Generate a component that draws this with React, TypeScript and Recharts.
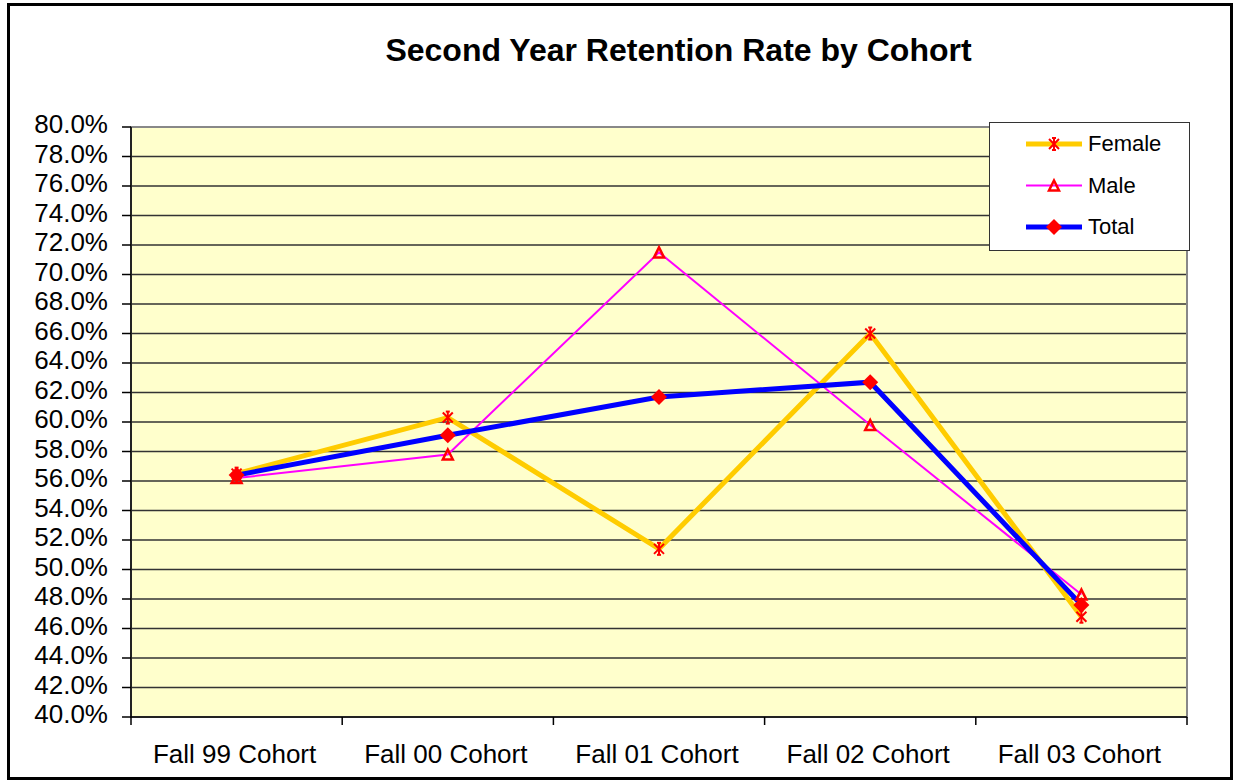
import { LineChart, Line, XAxis, YAxis, CartesianGrid, ReferenceArea, Legend } from "recharts"

const cohorts = ["Fall 99 Cohort", "Fall 00 Cohort", "Fall 01 Cohort", "Fall 02 Cohort", "Fall 03 Cohort"]
const female = [56.5, 60.3, 51.4, 66.0, 46.8]
const male = [56.2, 57.8, 71.5, 59.8, 48.3]
const total = [56.4, 59.1, 61.7, 62.7, 47.6]
const yTicks = [40, 42, 44, 46, 48, 50, 52, 54, 56, 58, 60, 62, 64, 66, 68, 70, 72, 74, 76, 78, 80]

const data = cohorts.map((name, i) => ({ name, female: female[i], male: male[i], total: total[i] }))

const FONT = "'Liberation Sans', Arial, sans-serif"
const PLOT_LEFT = 131
const PLOT_RIGHT = 1187
const PLOT_BOTTOM = 717
const BAND = (PLOT_RIGHT - PLOT_LEFT) / cohorts.length

const SERIES = [
  { key: "female", label: "Female", color: "#FFCC00", width: 5, marker: "star" },
  { key: "male", label: "Male", color: "#FF00FF", width: 2, marker: "triangle" },
  { key: "total", label: "Total", color: "#0000FF", width: 5, marker: "diamond" },
] as const

function Marker({ kind, cx, cy }: { kind: string; cx: number; cy: number }) {
  if (kind === "star") {
    const r = 5
    return (
      <g stroke="#FF0000" strokeWidth={2} fill="none">
        <line x1={cx - r} y1={cy - r} x2={cx + r} y2={cy + r} />
        <line x1={cx - r} y1={cy + r} x2={cx + r} y2={cy - r} />
        <line x1={cx} y1={cy - r - 1} x2={cx} y2={cy + r + 1} />
        <line x1={cx - 2} y1={cy - r - 1} x2={cx + 2} y2={cy - r - 1} />
        <line x1={cx - 2} y1={cy + r + 1} x2={cx + 2} y2={cy + r + 1} />
      </g>
    )
  }
  if (kind === "triangle") {
    return (
      <path
        d={`M${cx},${cy - 5} L${cx + 5},${cy + 5} L${cx - 5},${cy + 5} Z`}
        stroke="#FF0000"
        strokeWidth={2.5}
        fill="none"
      />
    )
  }
  return <path d={`M${cx},${cy - 8} L${cx + 8},${cy} L${cx},${cy + 8} L${cx - 8},${cy} Z`} fill="#FF0000" />
}

function makeDot(kind: string) {
  return (props: any) => {
    const { cx, cy, index } = props
    if (cx == null || cy == null) return <g key={index} />
    return (
      <g key={index}>
        <Marker kind={kind} cx={cx} cy={cy} />
      </g>
    )
  }
}

function XTick(props: any) {
  const { x, payload, index } = props
  const last = index === cohorts.length - 1
  return (
    <g>
      <line x1={x - BAND / 2} y1={PLOT_BOTTOM} x2={x - BAND / 2} y2={PLOT_BOTTOM + 8} stroke="#000" strokeWidth={1.5} />
      {last && (
        <line x1={x + BAND / 2} y1={PLOT_BOTTOM} x2={x + BAND / 2} y2={PLOT_BOTTOM + 8} stroke="#000" strokeWidth={1.5} />
      )}
      <text x={x - 2} y={763} textAnchor="middle" fontSize={26} fontFamily={FONT} fill="#000">
        {payload.value}
      </text>
    </g>
  )
}

function YTick(props: any) {
  const { x, y, payload } = props
  return (
    <text x={x} y={y + 6} textAnchor="end" fontSize={26} fontFamily={FONT} fill="#000">
      {payload.value.toFixed(1) + "%"}
    </text>
  )
}

function LegendBox() {
  return (
    <div
      style={{
        position: "relative",
        width: 201,
        height: 129,
        boxSizing: "border-box",
        border: "1.5px solid #333",
        background: "#fff",
        fontFamily: FONT,
        fontSize: 22,
      }}
    >
      {SERIES.map((s, i) => {
        const cy = 21 + i * 41.5
        return (
          <div key={s.key}>
            <svg style={{ position: "absolute", left: 0, top: 0 }} width={100} height={129}>
              <line x1={36} y1={cy} x2={92} y2={cy} stroke={s.color} strokeWidth={s.width} />
              <Marker kind={s.marker} cx={64} cy={cy} />
            </svg>
            <span style={{ position: "absolute", left: 98, top: cy - 13, lineHeight: "26px", color: "#000" }}>
              {s.label}
            </span>
          </div>
        )
      })}
    </div>
  )
}

export default function App() {
  return (
    <div style={{ position: "absolute", left: 0, top: 0, width: 1235, height: 782, background: "#fff" }}>
      <div
        style={{
          position: "absolute",
          left: 7,
          top: 3,
          width: 1226,
          height: 777,
          boxSizing: "border-box",
          border: "3px solid #000",
        }}
      />
      <div
        style={{
          position: "absolute",
          left: 0,
          width: 1235,
          top: 30,
          textAlign: "center",
          paddingLeft: 122,
          boxSizing: "border-box",
          fontFamily: FONT,
          fontWeight: "bold",
          fontSize: 32,
          lineHeight: "40px",
        }}
      >
        Second Year Retention Rate by Cohort
      </div>
      <div style={{ position: "absolute", left: 0, top: 0 }}>
        <LineChart width={1235} height={782} data={data} margin={{ top: 127, right: 48, left: 0, bottom: 15 }}>
          <CartesianGrid vertical={false} stroke="#333" strokeWidth={1.3} fill="#FFFFCC" fillOpacity={1} />
          <ReferenceArea y1={40} y2={80} fill="none" stroke="#888" strokeWidth={2} ifOverflow="visible" />
          <XAxis
            dataKey="name"
            scale="band"
            height={50}
            tickLine={false}
            axisLine={{ stroke: "#000", strokeWidth: 1.5 }}
            tick={<XTick />}
            interval={0}
          />
          <YAxis
            width={131}
            domain={[40, 80]}
            ticks={yTicks}
            interval={0}
            tickSize={9}
            tickMargin={14}
            tickLine={{ stroke: "#000", strokeWidth: 1.5 }}
            axisLine={{ stroke: "#000", strokeWidth: 1.5 }}
            tick={<YTick />}
          />
          <Legend
            layout="vertical"
            align="center"
            verticalAlign="middle"
            wrapperStyle={{ position: "absolute", left: 989, top: 122, width: 201, height: 129 }}
            content={() => <LegendBox />}
          />
          {SERIES.map((s) => (
            <Line
              key={s.key}
              type="linear"
              dataKey={s.key}
              name={s.label}
              stroke={s.color}
              strokeWidth={s.width}
              dot={makeDot(s.marker)}
              activeDot={false}
              isAnimationActive={false}
            />
          ))}
        </LineChart>
      </div>
    </div>
  )
}
